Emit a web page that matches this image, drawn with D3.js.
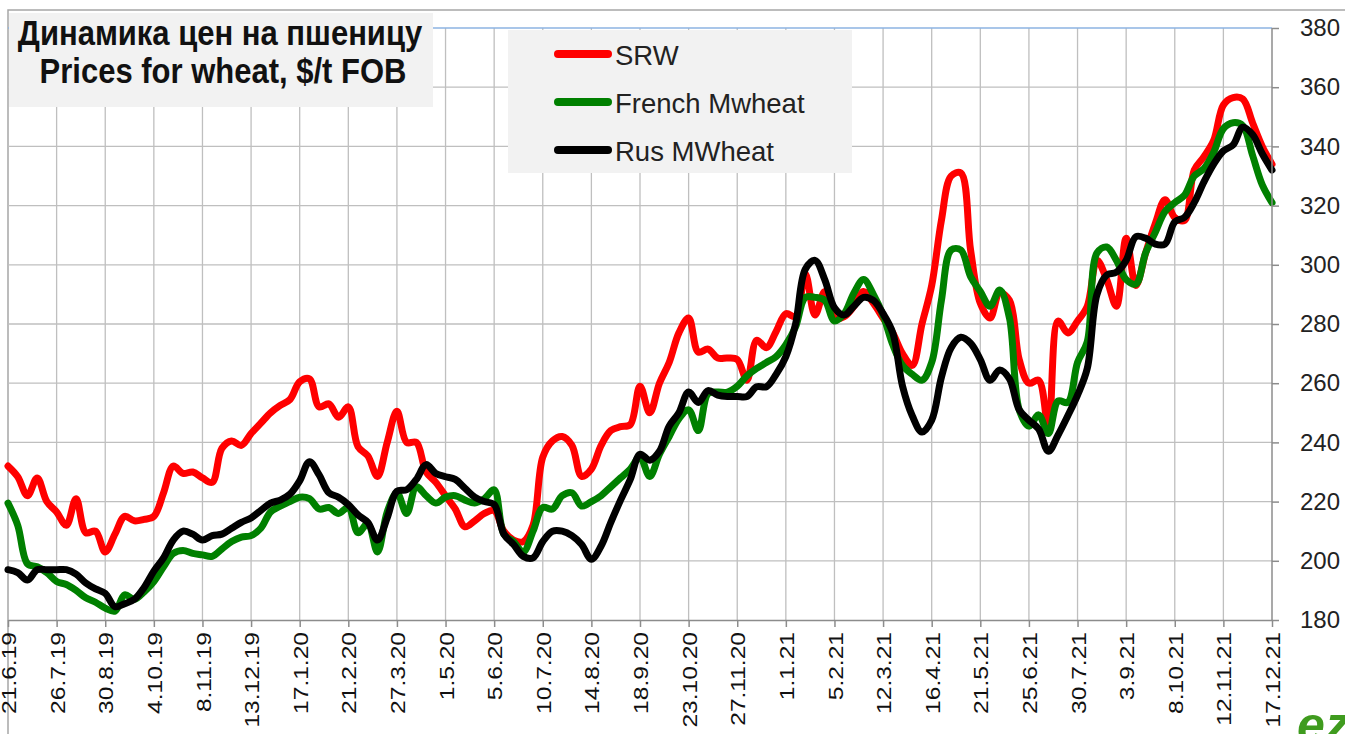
<!DOCTYPE html>
<meta charset="utf-8">
<style>
  body { margin: 0; background: #fff; }
  svg { display: block; font-family: "Liberation Sans", Arial, sans-serif; }
</style>
<body>
<script src="https://d3js.org/d3.v7.min.js"></script>
<script>

// tick labels on the date axis (every 5 weeks)
var tickLabels = ["21.6.19", "26.7.19", "30.8.19", "4.10.19", "8.11.19", "13.12.19", "17.1.20",
  "21.2.20", "27.3.20", "1.5.20", "5.6.20", "10.7.20", "14.8.20", "18.9.20", "23.10.20",
  "27.11.20", "1.1.21", "5.2.21", "12.3.21", "16.4.21", "21.5.21", "25.6.21", "30.7.21",
  "3.9.21", "8.10.21", "12.11.21", "17.12.21"];

var priceTicks = [180, 200, 220, 240, 260, 280, 300, 320, 340, 360, 380];

// weekly prices, $/t FOB, first week = 21.6.19
var srw = [232, 228.4, 222, 228, 220, 216.5, 212, 221, 209.5, 210,
  203, 209, 215, 213.5, 214, 215, 223, 232, 229.5, 230,
  228, 226.5, 238, 240.5, 239, 243, 246.5, 250, 252.5, 254.5,
  260.5, 261.5, 252, 253, 248.5, 252, 238.5, 235.5, 228.5, 240,
  250.5, 240, 240, 230, 226.5, 222, 217.5, 211.5, 213.5, 216,
  217, 210, 207, 206.5, 212, 235, 240.5, 242, 239, 228.5,
  231, 239, 244, 245.3, 246, 259, 250, 260, 267, 277,
  282, 270.5, 271.5, 268.5, 268.5, 268, 261, 274.5, 272, 277.5,
  283.5, 282.5, 297, 283, 291, 282, 282.5, 286, 291, 287,
  282, 277, 270, 266, 280, 293, 315, 330, 331, 305,
  287, 282, 290.5, 288, 268, 260, 261, 245, 281, 277,
  281, 286, 301.5, 295, 286, 309, 293, 304, 314, 322,
  316, 315, 332, 336.5, 342, 354, 356.5, 356, 348, 340,
  334];

var french = [219.5, 212, 199, 198, 196, 193, 192, 190, 187.5, 186,
  184, 183, 188.5, 187, 189.5, 193, 198, 202.5, 203.5, 202.5,
  202, 201.5, 204, 206.5, 208, 208.5, 211, 216.5, 218.5, 220,
  221.5, 221, 217.5, 218, 216, 218, 209.5, 212.5, 203, 216.5,
  223, 216, 225, 222, 219.5, 221.5, 222, 220.5, 219.5, 221,
  224, 209, 206.5, 203, 210, 218, 217.5, 222, 223, 218.5,
  220, 222, 225, 228, 231, 235, 228.5, 236, 242, 248,
  251, 244, 256.5, 257, 257, 259, 262.5, 265, 267, 269,
  273, 279, 289, 289, 288, 281, 283.5, 290.5, 295, 290,
  283, 273, 266, 263, 261, 267, 288, 305, 305, 296,
  291, 286, 291.5, 282, 251, 245.5, 249.3, 243, 254, 253.5,
  267, 274, 304, 306, 301.5, 295, 293.5, 304, 311, 318,
  321, 323.5, 330, 332.5, 338, 346, 348, 347, 337, 327,
  321];

var rus = [197, 196, 193.5, 197, 197, 197, 197, 195.5, 192.5, 190.5,
  189, 184.5, 185.5, 187, 191, 196.5, 201, 207, 210, 209,
  207, 208.5, 209, 211, 213, 214.5, 217, 219.5, 220.5, 222.5,
  227, 233.5, 229, 223, 221.5, 219, 215.5, 213, 207, 214.5,
  223.5, 224, 227.5, 232.5, 229.5, 228.4, 227.5, 224.5, 221.5, 220,
  219, 209, 205.5, 201.5, 201, 206.5, 210, 210, 208.5, 205.5,
  200.5, 205, 213, 220.5, 227.5, 236, 234, 237, 245.5, 250,
  257, 253.5, 257.5, 256, 255.5, 255.5, 255.5, 258.8, 258.8, 263,
  269, 280, 298.5, 301.5, 295, 285.5, 283, 286, 289, 288,
  283.5, 277, 259, 249, 243.5, 247.5, 262, 272, 275.5, 273.5,
  268, 261, 264.5, 261.5, 251, 247.5, 244.5, 237, 242.5, 249,
  256, 265, 290, 296.5, 297.5, 301.5, 309.5, 309, 307, 307,
  314.5, 316, 321, 328, 334, 338.5, 340.5, 346.5, 344, 337.5,
  332];

var seriesNames = ["SRW", "French Mwheat", "Rus MWheat"];
var seriesColors = ["#ff0000", "#008000", "#000000"];

var width = 1345,
    height = 734,
    plotLeft = 8, plotRight = 1272, plotTop = 28, plotBottom = 620;

var parseDate = d3.utcParse("%d.%m.%y");
var tickDates = tickLabels.map(parseDate);
var start = tickDates[0];
function weekDate(i) { return d3.utcDay.offset(start, 7 * i); }

var svg = d3.select("body").append("svg")
    .attr("width", width)
    .attr("height", height);

var x = d3.scaleUtc()
    .domain([start, tickDates[tickDates.length - 1]])
    .range([plotLeft, plotRight]);

var y = d3.scaleLinear()
    .domain([180, 380])
    .range([plotBottom, plotTop]);

// outer frame (top and left edges only visible)
svg.append("path")
    .attr("d", "M" + plotLeft + "," + height + "V10H" + width)
    .attr("fill", "none")
    .attr("stroke", "#a6a6a6")
    .attr("stroke-width", 1.5);

// grid
var grid = svg.append("g");
grid.selectAll("line.v")
    .data(tickDates.slice(1, -1))
    .enter().append("line")
      .attr("x1", function(d) { return x(d); })
      .attr("x2", function(d) { return x(d); })
      .attr("y1", plotTop)
      .attr("y2", plotBottom)
      .attr("stroke", "#bfbfbf")
      .attr("stroke-width", 1.3);

grid.selectAll("line.h")
    .data(priceTicks.slice(1))
    .enter().append("line")
      .attr("x1", plotLeft)
      .attr("x2", plotRight)
      .attr("y1", function(d) { return y(d); })
      .attr("y2", function(d) { return y(d); })
      .attr("stroke", function(d) { return d === 380 ? "#8db3e2" : "#bfbfbf"; })
      .attr("stroke-width", 1.3);

// title box
var title = svg.append("g");
title.append("rect")
    .attr("x", plotLeft + 1).attr("y", 13)
    .attr("width", 424).attr("height", 94)
    .attr("fill", "#f2f2f2");
title.append("text")
    .attr("transform", "translate(220,45) scale(1,1.13)")
    .attr("text-anchor", "middle")
    .attr("font-weight", "bold")
    .attr("font-size", 31)
    .attr("fill", "#111")
    .text("Динамика цен на пшеницу");
title.append("text")
    .attr("transform", "translate(223,83) scale(1,1.13)")
    .attr("text-anchor", "middle")
    .attr("font-weight", "bold")
    .attr("font-size", 31)
    .attr("fill", "#111")
    .text("Prices for wheat, $/t FOB");

// legend box
var legend = svg.append("g");
legend.append("rect")
    .attr("x", 508).attr("y", 30)
    .attr("width", 344).attr("height", 143)
    .attr("fill", "#f2f2f2");
var item = legend.selectAll("g")
    .data(seriesNames)
    .enter().append("g")
      .attr("transform", function(d, i) { return "translate(0," + (54 + i * 48) + ")"; });
item.append("line")
    .attr("x1", 558).attr("x2", 608)
    .attr("stroke", function(d, i) { return seriesColors[i]; })
    .attr("stroke-width", 8)
    .attr("stroke-linecap", "round");
item.append("text")
    .attr("x", 615).attr("y", 11)
    .attr("font-size", 27.5)
    .attr("fill", "#222")
    .text(function(d) { return d; });

// series
var line = d3.line()
    .x(function(d, i) { return x(weekDate(i)); })
    .y(function(d) { return y(d); })
    .curve(d3.curveCatmullRom.alpha(0.5));

svg.append("g").selectAll("path")
    .data([srw, french, rus])
    .enter().append("path")
      .attr("d", line)
      .attr("fill", "none")
      .attr("stroke", function(d, i) { return seriesColors[i]; })
      .attr("stroke-width", 7)
      .attr("stroke-linejoin", "round")
      .attr("stroke-linecap", "round");

// plot edge on the right
svg.append("line")
    .attr("x1", plotRight).attr("x2", plotRight)
    .attr("y1", plotTop).attr("y2", plotBottom)
    .attr("stroke", "#8c8c8c").attr("stroke-width", 1.5);

// x axis
var xAxis = svg.append("g")
    .attr("transform", "translate(0," + plotBottom + ")")
    .call(d3.axisBottom(x)
      .tickValues(tickDates)
      .tickFormat(function(d, i) { return tickLabels[i]; })
      .tickSize(7)
      .tickSizeOuter(0));
xAxis.select(".domain").attr("stroke", "#8c8c8c").attr("stroke-width", 1.5);
xAxis.selectAll(".tick line").attr("stroke", "#8c8c8c").attr("stroke-width", 1.5);
xAxis.selectAll(".tick text")
    .attr("font-size", 21)
    .attr("font-family", "Liberation Sans, Arial, sans-serif")
    .attr("fill", "#111")
    .attr("text-anchor", "end")
    .attr("dy", "0.36em")
    .attr("x", 0).attr("y", 0)
    .attr("transform", "translate(0,12) rotate(-90) scale(1.17,1)");

// y axis on the right
var yAxis = svg.append("g")
    .attr("transform", "translate(" + plotRight + ",0)")
    .call(d3.axisRight(y)
      .tickValues(priceTicks)
      .tickSize(7)
      .tickPadding(21)
      .tickSizeOuter(0));
yAxis.select(".domain").remove();
yAxis.selectAll(".tick line").attr("stroke", "#8c8c8c").attr("stroke-width", 1.5);
yAxis.selectAll(".tick text")
    .attr("font-size", 24)
    .attr("font-family", "Liberation Sans, Arial, sans-serif")
    .attr("fill", "#222");

// logo
svg.append("text")
    .attr("x", 1297).attr("y", 742)
    .attr("font-size", 50)
    .attr("font-weight", "bold")
    .attr("font-style", "italic")
    .attr("fill", "#3f9b1e")
    .text("ez");

</script>
</body>
